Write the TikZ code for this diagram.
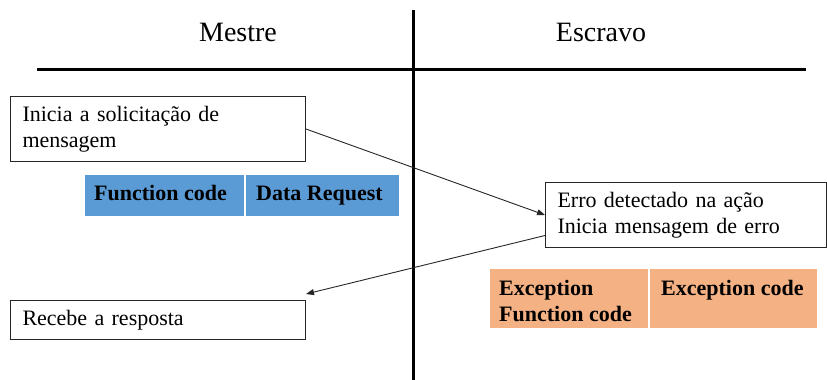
\documentclass[tikz,border=0pt]{standalone}
\usepackage{fontspec}
\setmainfont{Liberation Serif}
\usetikzlibrary{arrows.meta}
\definecolor{cellblue}{RGB}{91,155,213}
\definecolor{cellorange}{RGB}{244,177,131}
\begin{document}
\begin{tikzpicture}[x=1pt,y=-1pt,
  title/.style={font=\fontsize{28}{33}\selectfont, inner sep=0pt},
  celltxt/.style={font=\fontsize{22}{26.4}\selectfont\bfseries, inner sep=0pt, anchor=base west},
  msgbox/.style={draw=black!85, line width=1pt, fill=white, rectangle, anchor=north west,
    align=left, inner xsep=12pt, inner ysep=0pt, font=\fontsize{22}{26.4}\selectfont},
  cell/.style={rectangle, draw=white, line width=1.5pt, anchor=north west, inner sep=0pt},
  axis/.style={line width=3pt, black},
  msgarrow/.style={draw=black!85, line width=0.9pt, -{Triangle[length=8pt,width=6pt]}}]
\useasboundingbox (0,0) rectangle (827,380);

% titles
\node[title] (mestre) at (238,32) {Mestre};
\node[title] (escravo) at (601,32) {Escravo};

% axes
\coordinate (vtop) at (413,10);
\coordinate (vbot) at (413,380);
\coordinate (hleft) at (37,69);
\coordinate (hright) at (806,69);
\draw[axis] (vtop) -- (vbot);
\draw[axis] (hleft) -- (hright);

% message boxes
\node[msgbox, text width=271pt, minimum height=65pt] (ini) at (10,96)
  {Inicia a solicitação de\\mensagem};
\node[msgbox, text width=257pt, minimum height=65pt] (erro) at (545,182)
  {Erro detectado na ação\\Inicia mensagem de erro};
\node[msgbox, text width=271pt, minimum height=39pt] (resp) at (10,300)
  {Recebe a resposta};

% blue cells
\node[cell, fill=cellblue, minimum width=161pt, minimum height=43pt] (fc) at (83,173) {};
\node[cell, fill=cellblue, minimum width=155pt, minimum height=43pt] (dr) at (244,173) {};
\node[celltxt] (fctxt) at (94,200) {Function code};
\node[celltxt] (drtxt) at (256,200) {Data Request};

% orange cells
\node[cell, fill=cellorange, minimum width=160pt, minimum height=61pt] (efc) at (488,267) {};
\node[cell, fill=cellorange, minimum width=169pt, minimum height=61pt] (ec) at (648,267) {};
\node[celltxt] (efctxta) at (499,295) {Exception};
\node[celltxt] (efctxtb) at (499,321) {Function code};
\node[celltxt] (ectxt) at (661,295) {Exception code};

% arrows
\draw[msgarrow] (ini.east) -- (erro.west);
\draw[msgarrow] ([yshift=-20.5pt]erro.west) -- ([yshift=6pt]resp.north east);
\end{tikzpicture}
\end{document}
